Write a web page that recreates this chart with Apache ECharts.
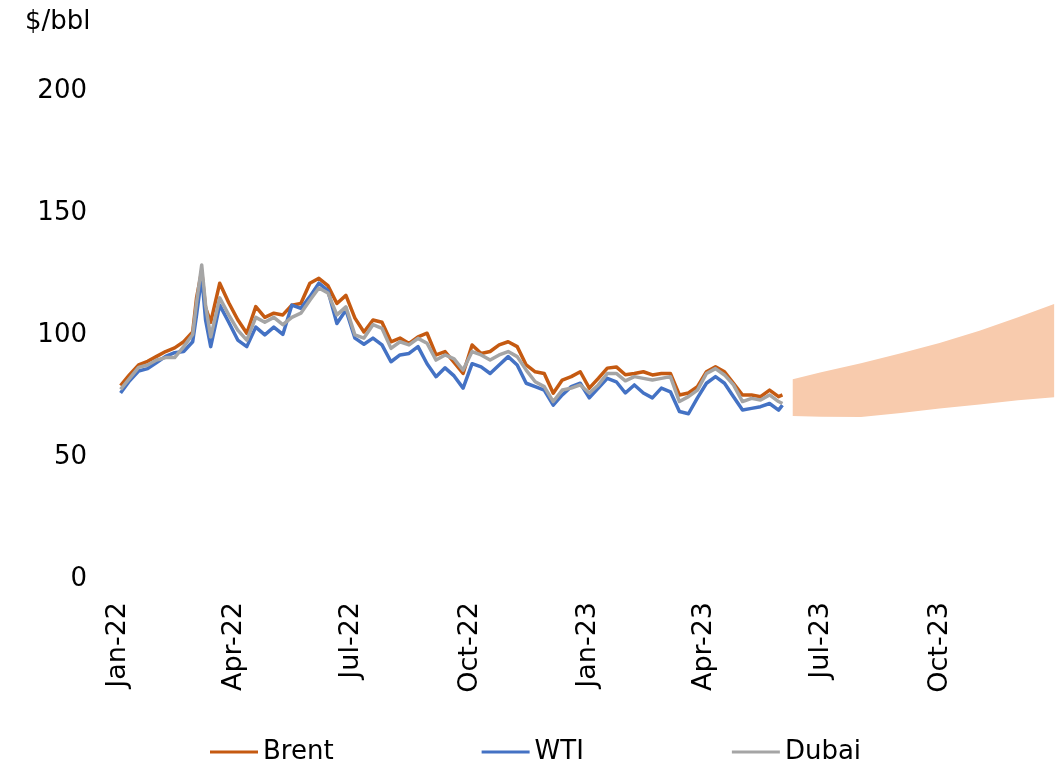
<!DOCTYPE html>
<html>
<head>
<meta charset="utf-8">
<script src="https://cdn.jsdelivr.net/npm/echarts@6/dist/echarts.min.js"></script>
<style>
  html, body { margin: 0; padding: 0; background: #fff; }
  #chart { width: 1061px; height: 766px; }
</style>
</head>
<body>
<div id="chart"></div>
<script>
// daily price lines, read off roughly weekly
const dates = [
  '2022-01-03','2022-01-10','2022-01-17','2022-01-24','2022-01-31','2022-02-07','2022-02-14','2022-02-21',
  '2022-02-28','2022-03-03','2022-03-07','2022-03-10','2022-03-14','2022-03-21','2022-03-28','2022-04-04',
  '2022-04-11','2022-04-18','2022-04-25','2022-05-02','2022-05-09','2022-05-16','2022-05-23','2022-05-30',
  '2022-06-06','2022-06-13','2022-06-20','2022-06-27','2022-07-04','2022-07-11','2022-07-18','2022-07-25',
  '2022-08-01','2022-08-08','2022-08-15','2022-08-22','2022-08-29','2022-09-05','2022-09-12','2022-09-19',
  '2022-09-26','2022-10-03','2022-10-10','2022-10-17','2022-10-24','2022-10-31','2022-11-07','2022-11-14',
  '2022-11-21','2022-11-28','2022-12-05','2022-12-12','2022-12-19','2022-12-26','2023-01-02','2023-01-09',
  '2023-01-16','2023-01-23','2023-01-30','2023-02-06','2023-02-13','2023-02-20','2023-02-27','2023-03-06',
  '2023-03-13','2023-03-20','2023-03-27','2023-04-03','2023-04-10','2023-04-17','2023-04-24','2023-05-01',
  '2023-05-08','2023-05-15','2023-05-22','2023-05-29','2023-06-01'
];
const brent = [
  78, 82.5, 86.5, 88, 90, 92, 93.5, 96,
  100, 114, 125, 110, 104, 120, 112, 105,
  99.5, 110.4, 106, 107.7, 107, 111, 111.7, 120,
  122, 119, 111.7, 115, 105.7, 100, 104.9, 104,
  96, 97.5, 95.3, 98, 99.5, 90.6, 92, 87.5,
  83, 94.7, 91.2, 92, 94.7, 96, 94, 86.5,
  83.7, 83, 74.9, 80.3, 81.7, 83.7, 77, 81,
  85.2, 85.7, 82.5, 83, 83.7, 82.4, 83, 83,
  74.2, 75, 77.6, 83.7, 85.8, 83.7, 79, 74.2,
  74.2, 73.5, 76.2, 73.5, 74.2
];
const wti = [
  75, 80, 84, 85, 87.5, 90, 91.5, 92,
  96, 107, 123, 105, 94, 111, 104, 96.7,
  94, 102, 98.8, 102, 99, 111, 109.7, 114.5,
  120, 117, 103.5, 109, 97.5, 95, 97.5, 94.7,
  87.8, 90.6, 91.2, 94, 87, 81.7, 85.3, 82,
  77, 87, 85.7, 83, 86.5, 89.9, 86.5, 79,
  77.6, 76.2, 70, 74.2, 77.6, 79, 73, 77,
  81, 79.6, 75, 78.3, 75, 73, 77, 75.5,
  67.4, 66.5, 73, 79, 81.7, 79, 73.5, 68,
  68.7, 69.4, 70.7, 68, 70
];
const dubai = [
  76.5, 81, 85.5, 86.5, 88.5, 89.5, 89.5, 94,
  99, 112, 127.5, 111, 98, 114, 107, 100.8,
  96.7, 106, 104, 106, 103, 106, 107.7, 113,
  118, 116, 107, 110.3, 98.8, 97.5, 103, 101.5,
  93.3, 96, 94.7, 97.4, 95.4, 88.5, 90.6, 89,
  84.4, 92, 90.6, 88.5, 90.6, 92, 89.9, 84.4,
  79.6, 77.6, 71.5, 76.2, 77, 78.3, 75, 78.3,
  83, 83, 80, 81.7, 81, 80.3, 81, 81.7,
  71.5, 73.5, 76.2, 83, 85, 82.4, 78.3, 71.5,
  72.8, 72.1, 74.2, 71.5, 70.7
];

// forecast range
const bandDates = ['2023-06-09','2023-07-01','2023-08-01','2023-09-01','2023-10-01','2023-11-01','2023-12-01','2023-12-29'];
const bandLow  = [65.6, 65.3, 65.2, 66.8, 68.6, 70.3, 72, 73.3];
const bandHigh = [80.6, 83.5, 87.2, 91.3, 95.5, 100.5, 106, 111.5];

const xTickDates = ['2022-01-01','2022-04-01','2022-07-01','2022-10-01','2023-01-01','2023-04-01','2023-07-01','2023-10-01'];
const xTickLabels = ['Jan-22','Apr-22','Jul-22','Oct-22','Jan-23','Apr-23','Jul-23','Oct-23'];

const toTime = s => Date.UTC(+s.slice(0, 4), +s.slice(5, 7) - 1, +s.slice(8, 10));
const tickTimes = xTickDates.map(toTime);
const font = 'DejaVu Sans, Verdana, sans-serif';

const pairs = (ds, vals) => ds.map((d, i) => [toTime(d), vals[i]]);

const priceLine = (name, color, vals) => ({
  name: name,
  type: 'line',
  symbol: 'none',
  color: color,
  lineStyle: { width: 3.5, join: 'round' },
  data: pairs(dates, vals)
});

const chart = echarts.init(document.getElementById('chart'));
chart.setOption({
  animation: false,
  title: {
    text: '$/bbl',
    left: 20,
    top: 4,
    textStyle: { fontSize: 26, fontWeight: 'normal', fontFamily: font, color: '#000' }
  },
  grid: { left: 118, right: 3, top: 88, bottom: 190 },
  legend: {
    data: ['Brent', 'WTI', 'Dubai'],
    left: 205,
    top: 734,
    icon: 'rect',
    itemWidth: 48,
    itemHeight: 3,
    itemGap: 148,
    selectedMode: false,
    textStyle: { fontSize: 26, fontFamily: font, color: '#000' }
  },
  xAxis: {
    type: 'value',
    min: toTime('2022-01-01'),
    max: toTime('2024-01-01'),
    axisLine: { show: false },
    axisTick: { show: false },
    splitLine: { show: false },
    axisLabel: {
      customValues: tickTimes,
      formatter: v => {
        const i = tickTimes.indexOf(+v);
        return i >= 0 ? xTickLabels[i] : '';
      },
      rotate: 90,
      margin: 26,
      fontSize: 27,
      fontFamily: font,
      color: '#000'
    }
  },
  yAxis: {
    type: 'value',
    min: 0,
    max: 200,
    interval: 50,
    axisLine: { show: false },
    axisTick: { show: false },
    splitLine: { show: false },
    axisLabel: {
      margin: 31,
      formatter: v => '{t|' + v + '}',
      rich: { t: { fontSize: 26, fontFamily: font, color: '#000', padding: [6, 0, 0, 0] } }
    }
  },
  series: [
    {
      // forecast range as one filled shape between low and high edges
      name: 'range',
      type: 'custom',
      silent: true,
      data: bandDates.map((d, i) => [toTime(d), bandLow[i], bandHigh[i]]),
      encode: { x: 0, y: [1, 2] },
      renderItem: (params, api) => {
        if (params.dataIndex !== 0) return null;
        const top = bandDates.map((d, i) => api.coord([toTime(d), bandHigh[i]]));
        const bottom = bandDates.map((d, i) => api.coord([toTime(d), bandLow[i]])).reverse();
        return {
          type: 'polygon',
          shape: { points: top.concat(bottom) },
          style: { fill: '#F8CBAD' }
        };
      }
    },
    priceLine('Brent', '#C55A11', brent),
    priceLine('WTI', '#4472C4', wti),
    priceLine('Dubai', '#A5A5A5', dubai)
  ]
});
</script>
</body>
</html>
